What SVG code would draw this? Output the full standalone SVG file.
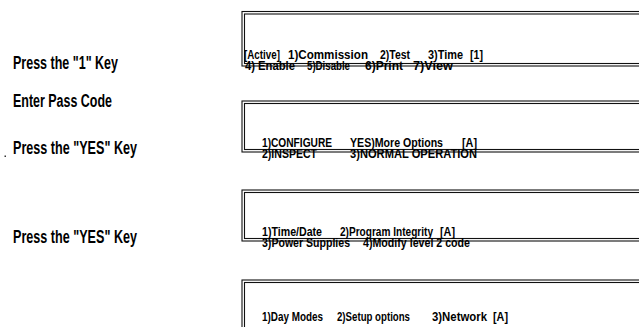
<svg xmlns="http://www.w3.org/2000/svg" width="639" height="327" viewBox="0 0 639 327">
<style>
.lbl{font-family:"Liberation Sans",Arial,sans-serif;font-weight:bold;font-size:17.5px;fill:#000}
.bt{font-family:"Liberation Sans",Arial,sans-serif;font-weight:bold;font-size:13.5px;fill:#000}
.b{fill:none;stroke:#111;stroke-width:1.1}
</style>
<rect width="639" height="327" fill="#fff"/>
<g id="labels">
<text class="lbl" x="13" y="69" textLength="105" lengthAdjust="spacingAndGlyphs">Press the "1" Key</text>
<text class="lbl" x="13" y="107" textLength="99" lengthAdjust="spacingAndGlyphs">Enter Pass Code</text>
<text class="lbl" x="13" y="154" textLength="124" lengthAdjust="spacingAndGlyphs">Press the "YES" Key</text>
<text class="lbl" x="13" y="243" textLength="124" lengthAdjust="spacingAndGlyphs">Press the "YES" Key</text>
<rect x="4.5" y="155.5" width="1.5" height="1.5" fill="#333"/>
</g>
<g id="screen1">
<rect class="b" x="242" y="11.5" width="420" height="54.5"/>
<rect class="b" x="244.5" y="14" width="420" height="49.5"/>
<text class="bt" y="59"><tspan x="244" textLength="36" lengthAdjust="spacingAndGlyphs">[Active]</tspan><tspan x="288" textLength="80" lengthAdjust="spacingAndGlyphs">1)Commission</tspan><tspan x="380" textLength="30" lengthAdjust="spacingAndGlyphs">2)Test</tspan><tspan x="428" textLength="35" lengthAdjust="spacingAndGlyphs">3)Time</tspan><tspan x="470" textLength="13" lengthAdjust="spacingAndGlyphs">[1]</tspan></text>
<text class="bt" y="70"><tspan x="245" textLength="50" lengthAdjust="spacingAndGlyphs">4) Enable</tspan><tspan x="307" textLength="43" lengthAdjust="spacingAndGlyphs">5)Disable</tspan><tspan x="365" textLength="38" lengthAdjust="spacingAndGlyphs">6)Print</tspan><tspan x="413" textLength="40" lengthAdjust="spacingAndGlyphs">7)View</tspan></text>
</g>
<g id="screen2">
<rect class="b" x="242" y="101" width="420" height="51"/>
<rect class="b" x="244.5" y="103.5" width="420" height="46"/>
<text class="bt" y="147"><tspan x="262" textLength="70" lengthAdjust="spacingAndGlyphs">1)CONFIGURE</tspan><tspan x="350" textLength="93" lengthAdjust="spacingAndGlyphs">YES)More Options</tspan><tspan x="462" textLength="15" lengthAdjust="spacingAndGlyphs">[A]</tspan></text>
<text class="bt" y="158"><tspan x="262" textLength="55" lengthAdjust="spacingAndGlyphs">2)INSPECT</tspan><tspan x="350" textLength="127" lengthAdjust="spacingAndGlyphs">3)NORMAL OPERATION</tspan></text>
</g>
<g id="screen3">
<rect class="b" x="242" y="190" width="420" height="51"/>
<rect class="b" x="244.5" y="192.5" width="420" height="46"/>
<text class="bt" y="236"><tspan x="262" textLength="60" lengthAdjust="spacingAndGlyphs">1)Time/Date</tspan><tspan x="340" textLength="93" lengthAdjust="spacingAndGlyphs">2)Program Integrity</tspan><tspan x="440" textLength="15" lengthAdjust="spacingAndGlyphs">[A]</tspan></text>
<text class="bt" y="247"><tspan x="262" textLength="88" lengthAdjust="spacingAndGlyphs">3)Power Supplies</tspan><tspan x="363" textLength="107" lengthAdjust="spacingAndGlyphs">4)Modify level 2 code</tspan></text>
</g>
<g id="screen4">
<rect class="b" x="242" y="280" width="420" height="60"/>
<rect class="b" x="244.5" y="282.5" width="420" height="60"/>
<text class="bt" y="321"><tspan x="262" textLength="61" lengthAdjust="spacingAndGlyphs">1)Day Modes</tspan><tspan x="337" textLength="73" lengthAdjust="spacingAndGlyphs">2)Setup options</tspan><tspan x="432" textLength="55" lengthAdjust="spacingAndGlyphs">3)Network</tspan><tspan x="493" textLength="15" lengthAdjust="spacingAndGlyphs">[A]</tspan></text>
</g>
<g id="connectors"></g>
</svg>
